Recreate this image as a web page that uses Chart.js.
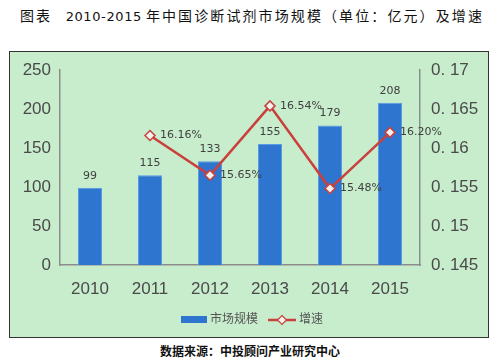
<!DOCTYPE html>
<html>
<head>
<meta charset="utf-8">
<script src="https://cdn.jsdelivr.net/npm/chart.js@4"></script>
<style>
  body { margin: 0; width: 500px; height: 364px; background: #fff; position: relative; overflow: hidden;
         font-family: "Noto Sans CJK SC", "DejaVu Sans", sans-serif; }
  #title { position: absolute; left: 20px; top: 5px; font-size: 14px; color: #111; white-space: nowrap; }
  #title .cjk { letter-spacing: 2.1px; }
  #title .num { font-family: "DejaVu Sans", sans-serif; font-size: 13px; letter-spacing: 0.6px; margin: 0 4px; }
  #box { position: absolute; left: 9px; top: 51px; width: 480px; height: 287px; box-sizing: border-box;
         border: 1px solid #333; background: #c8edcd; }
  #chart { position: absolute; left: 0; top: 0; }
  .leg { position: absolute; top: 309px; font-size: 12px; color: #555; white-space: nowrap; }
  #source { position: absolute; left: 0; width: 500px; top: 342px; text-align: center; font-size: 12px; font-weight: bold; color: #111; }
</style>
</head>
<body>
<div id="title"><span class="cjk">图表</span>&nbsp;&nbsp;&nbsp;<span class="num">2010-2015</span><span class="cjk">年中国诊断试剂市场规模（单位：亿元）及增速</span></div>
<div id="box"><canvas id="chart" width="478" height="285"></canvas></div>
<div class="leg" style="left:181px;"><span style="display:inline-block;width:26px;height:7px;background:#2e75cf;vertical-align:middle;margin-right:3px;"></span>市场规模</div>
<div class="leg" style="left:268px;"><canvas id="legLine" width="28" height="12" style="vertical-align:middle;margin-right:3px;"></canvas>增速</div>
<div id="source">数据来源：中投顾问产业研究中心</div>

<script>
// ===== DATOS =====
const years = ['2010', '2011', '2012', '2013', '2014', '2015'];
const marketSize = [99, 115, 133, 155, 179, 208];
const growthRate = [null, 0.1616, 0.1565, 0.1654, 0.1548, 0.1620];
const growthLabels = [null, '16.16%', '15.65%', '16.54%', '15.48%', '16.20%'];
const leftTickValues = [0, 50, 100, 150, 200, 250];
const leftTickLabels = ['0', '50', '100', '150', '200', '250'];
const rightTickValues = [0.145, 0.15, 0.155, 0.16, 0.165, 0.17];
const rightTickLabels = ['0. 145', '0. 15', '0. 155', '0. 16', '0. 165', '0. 17'];

const barColor = '#2e75cf';
const lineColor = '#c9403d';
const axisColor = '#8c8c8c';
const tickColor = '#4a4a4a';
const tickFont = { family: '"Liberation Sans", Arial, sans-serif', size: 17 };

// ===== ETIQUETAS DE DATOS =====
const valueLabels = {
  id: 'valueLabels',
  afterDatasetsDraw: function(chart) {
    const ctx = chart.ctx;
    ctx.save();
    ctx.font = '11px "DejaVu Sans", sans-serif';
    ctx.fillStyle = '#404040';

    const barMeta = chart.getDatasetMeta(1);
    ctx.textAlign = 'center';
    ctx.textBaseline = 'middle';
    barMeta.data.forEach(function(bar, i) {
      ctx.fillText(String(marketSize[i]), bar.x, bar.y - 12);
    });

    const lineMeta = chart.getDatasetMeta(0);
    ctx.textAlign = 'left';
    lineMeta.data.forEach(function(pt, i) {
      if (growthLabels[i] == null) return;
      ctx.fillText(growthLabels[i], pt.x + 10, pt.y);
    });
    ctx.restore();
  }
};

new Chart(document.getElementById('chart'), {
  data: {
    labels: years,
    datasets: [
      {
        type: 'line',
        label: '增速',
        data: growthRate,
        yAxisID: 'y1',
        borderColor: lineColor,
        borderWidth: 2.5,
        pointStyle: 'rectRot',
        pointRadius: 5,
        pointBackgroundColor: '#f2f2ee',
        pointBorderColor: lineColor,
        pointBorderWidth: 1.5,
        tension: 0,
        spanGaps: false,
        order: 0
      },
      {
        type: 'bar',
        label: '市场规模',
        data: marketSize,
        yAxisID: 'y',
        backgroundColor: barColor,
        borderColor: '#5a9be6',
        borderWidth: 1,
        barPercentage: 0.4,
        categoryPercentage: 1,
        order: 1
      }
    ]
  },
  options: {
    responsive: false,
    animation: false,
    devicePixelRatio: 1,
    layout: { padding: { top: 18, left: 0, right: 0, bottom: 0 } },
    plugins: { legend: { display: false }, tooltip: { enabled: false } },
    scales: {
      x: {
        grid: { display: false, drawTicks: false },
        border: { color: axisColor, width: 1.5 },
        ticks: { color: tickColor, font: tickFont, padding: 14 },
        afterFit: function(scale) { scale.height = 72; }
      },
      y: {
        position: 'left',
        min: 0, max: 250,
        grid: { display: false, drawOnChartArea: false, drawTicks: true, tickLength: 5, tickColor: axisColor },
        border: { color: axisColor, width: 1.5 },
        afterBuildTicks: function(scale) { scale.ticks = leftTickValues.map(function(v) { return { value: v }; }); },
        ticks: {
          color: tickColor, font: tickFont, padding: 4,
          callback: function(v, i) { return leftTickLabels[i]; }
        },
        afterFit: function(scale) { scale.width = 50; }
      },
      y1: {
        position: 'right',
        min: 0.145, max: 0.17,
        grid: { display: false, drawOnChartArea: false, drawTicks: true, tickLength: 5, tickColor: axisColor },
        border: { color: axisColor, width: 1.5 },
        afterBuildTicks: function(scale) { scale.ticks = rightTickValues.map(function(v) { return { value: v }; }); },
        ticks: {
          color: tickColor, font: tickFont, padding: 6,
          callback: function(v, i) { return rightTickLabels[i]; }
        },
        afterFit: function(scale) { scale.width = 68; }
      }
    }
  },
  plugins: [valueLabels]
});

// ===== LEYENDA DE LÍNEA =====
(function drawLegendLine() {
  const c = document.getElementById('legLine').getContext('2d');
  c.strokeStyle = lineColor;
  c.lineWidth = 2.5;
  c.beginPath(); c.moveTo(0, 6); c.lineTo(28, 6); c.stroke();
  c.fillStyle = '#f2f2ee';
  c.lineWidth = 1.2;
  c.beginPath(); c.moveTo(14, 1.5); c.lineTo(18.5, 6); c.lineTo(14, 10.5); c.lineTo(9.5, 6); c.closePath();
  c.fill(); c.stroke();
})();
</script>
</body>
</html>
